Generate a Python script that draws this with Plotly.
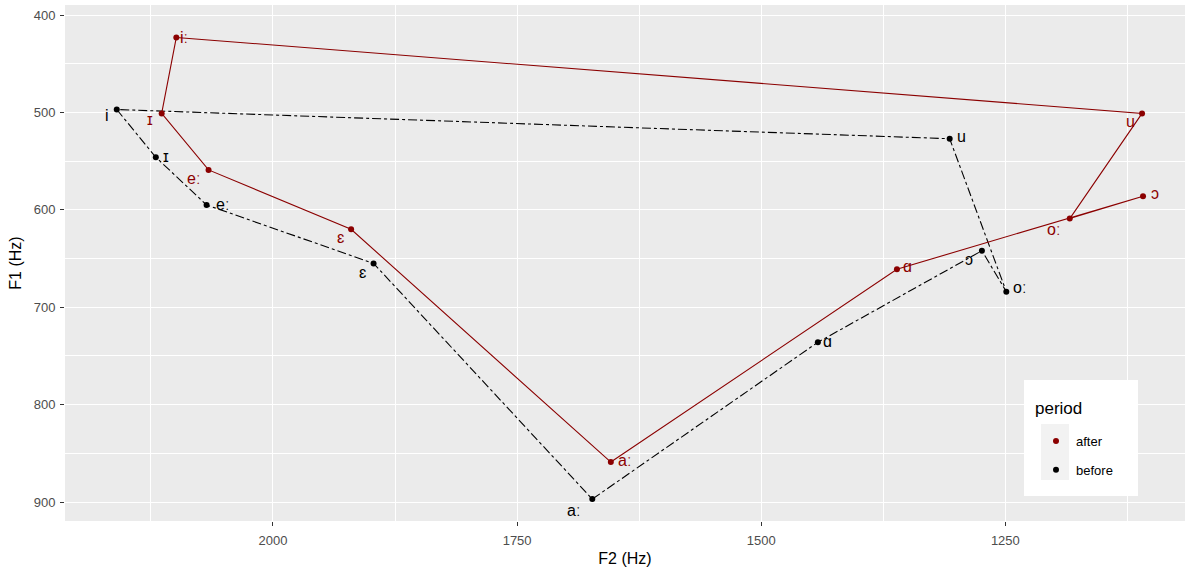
import plotly.graph_objects as go

# ---- data ----
vowels_before = ["i", "ɪ", "eː", "ɛ", "aː", "ɑ", "ɔ", "oː", "u"]
f2_before = [2160, 2120, 2068, 1897, 1673, 1442, 1274, 1249, 1307]
f1_before = [497, 546, 595, 655, 897, 736, 642, 684, 527]

vowels_after = ["iː", "ɪ", "eː", "ɛ", "aː", "ɑ", "ɔ", "oː", "u"]
f2_after = [2099, 2114, 2066, 1920, 1654, 1361, 1109, 1184, 1110]
f1_after = [423, 501, 559, 620, 859, 661, 586, 609, 501]

periods = ["after", "before"]

# label offsets (pixels) - style only
shift_before = [(-10, -6), (10, 1), (16, 0), (-11, -9), (-19, -11), (10, 1), (-13, -9), (13, 4), (12, 2)]
shift_after = [(8, 0), (-12, -6), (-15, -9), (-11, -8), (14, 2), (11, 3), (12, 3), (-16, -11), (-12, -8)]

RED = "#8B0000"
BLACK = "#000000"
FONT = "Liberation Sans, Arial, sans-serif"

fig = go.Figure()

def closed(v):
    return list(v) + [v[0]]

fig.add_trace(go.Scatter(x=closed(f2_before), y=closed(f1_before), mode="lines",
                         line=dict(color=BLACK, width=1.1, dash="dashdot"), showlegend=False,
                         hoverinfo="skip"))
fig.add_trace(go.Scatter(x=closed(f2_after), y=closed(f1_after), mode="lines",
                         line=dict(color=RED, width=1.1), showlegend=False, hoverinfo="skip"))
fig.add_trace(go.Scatter(x=f2_before, y=f1_before, mode="markers",
                         marker=dict(color=BLACK, size=6), showlegend=False))
fig.add_trace(go.Scatter(x=f2_after, y=f1_after, mode="markers",
                         marker=dict(color=RED, size=6), showlegend=False))

# legend entries (dots only)
for p, c in zip(periods, [RED, BLACK]):
    fig.add_trace(go.Scatter(x=[None], y=[None], mode="markers", name=p, legendgroup=p,
                             marker=dict(color=c, size=6)))

for labs, xs, ys, shifts, col in [(vowels_before, f2_before, f1_before, shift_before, BLACK),
                                   (vowels_after, f2_after, f1_after, shift_after, RED)]:
    for lab, x, y, (dx, dy) in zip(labs, xs, ys, shifts):
        fig.add_annotation(x=x, y=y, text=lab, showarrow=False, xshift=dx, yshift=dy,
                           font=dict(color=col, size=16, family=FONT))

# legend background box and key background (paper coords; panel x 65..1185, y 5..521)
def px2paper_x(px):
    return (px - 65) / 1120.0

def px2paper_y(py):
    return (521 - py) / 516.0

fig.add_shape(type="rect", xref="paper", yref="paper",
              x0=px2paper_x(1024), x1=px2paper_x(1138), y0=px2paper_y(496), y1=px2paper_y(380),
              fillcolor="white", line=dict(width=0), layer="above")
fig.add_shape(type="rect", xref="paper", yref="paper",
              x0=px2paper_x(1041), x1=px2paper_x(1069), y0=px2paper_y(480), y1=px2paper_y(424),
              fillcolor="#F2F2F2", line=dict(width=0), layer="above")
fig.add_annotation(xref="paper", yref="paper", x=px2paper_x(1033), y=px2paper_y(408),
                   xanchor="left", yanchor="middle", text="period", showarrow=False,
                   font=dict(size=17, color="black", family=FONT))

axis_common = dict(showgrid=True, gridcolor="white", gridwidth=1.1, zeroline=False,
                   ticks="outside", ticklen=4, tickcolor="#333333", tickwidth=1,
                   tickfont=dict(color="#4D4D4D", size=13, family=FONT),
                   showline=False, automargin=False,
                   title_font=dict(size=16, color="black", family=FONT))

fig.update_layout(
    width=1190, height=571,
    margin=dict(l=65, r=5, t=5, b=50, autoexpand=False),
    paper_bgcolor="white", plot_bgcolor="#EBEBEB",
    font=dict(family=FONT),
    xaxis=dict(range=[2213, 1066], tickvals=[2000, 1750, 1500, 1250],
               minor=dict(tickvals=[2125, 1875, 1625, 1375, 1125], showgrid=True,
                          gridcolor="white", gridwidth=0.5, ticks=""),
               ticklabelstandoff=3,
               title=dict(text="F2 (Hz)", standoff=6), **axis_common),
    yaxis=dict(range=[919.5, 389.7], tickvals=[400, 500, 600, 700, 800, 900],
               minor=dict(tickvals=[450, 550, 650, 750, 850], showgrid=True,
                          gridcolor="white", gridwidth=0.5, ticks=""),
               ticklabelstandoff=2,
               title=dict(text="F1 (Hz)", standoff=8), **axis_common),
    legend=dict(x=px2paper_x(1036), y=px2paper_y(426), xanchor="left", yanchor="top",
                bgcolor="rgba(0,0,0,0)",
                font=dict(size=13, color="black"), itemsizing="trace",
                borderwidth=0, tracegroupgap=9),
)

fig.write_html("out.html", config={"displayModeBar": False},
               post_script="document.body.style.margin='0';")
